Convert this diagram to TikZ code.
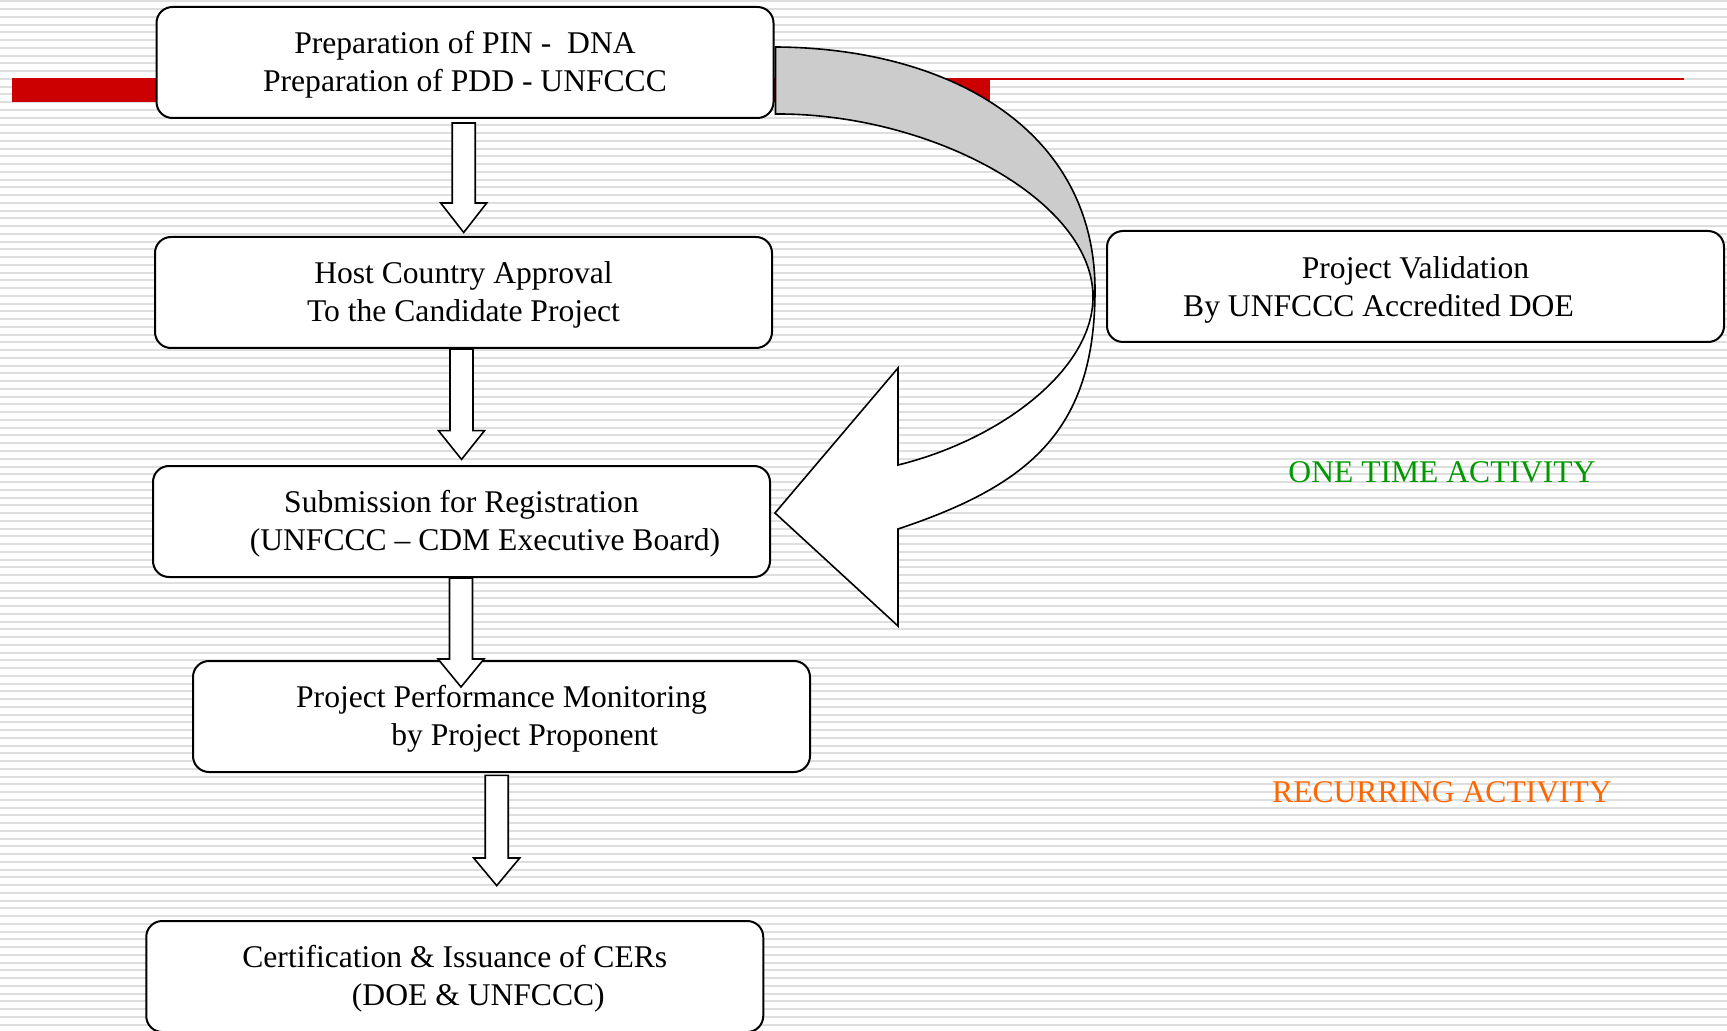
\documentclass[tikz,border=0pt]{standalone}
\usepackage{fontspec}
\setmainfont{Liberation Serif}
\usetikzlibrary{calc}
\definecolor{stripegray}{RGB}{222,222,222}
\definecolor{barred}{RGB}{204,0,0}
\definecolor{bandgray}{RGB}{204,204,204}
\definecolor{onegreen}{RGB}{0,153,0}
\definecolor{recorange}{RGB}{255,102,0}
\newcommand\topstrut{\rule{0pt}{15.7pt}}
\newcommand\toptallstrut{\rule{0pt}{16.7pt}}
\newcommand\blockdown[6]{%
 \draw[barrow] let \p1=(#1), \p2=(#2) in
 ({\x1+#3-5.75pt},{\y1-#4}) -- ({\x1+#3-5.75pt},{\y2+#5+#6}) --
 ({\x1+#3-11.5pt},{\y2+#5+#6}) -- ({\x1+#3},{\y2+#5}) --
 ({\x1+#3+11.5pt},{\y2+#5+#6}) -- ({\x1+#3+5.75pt},{\y2+#5+#6}) --
 ({\x1+#3+5.75pt},{\y1-#4}) -- cycle;}
\begin{document}
\begin{tikzpicture}[x=0.5pt,y=-0.5pt,
 stripe/.style={stripegray, line width=1pt},
 box/.style={draw, line width=1pt, fill=white, rounded corners=8pt,
   minimum width=308.5pt, minimum height=55.5pt, align=center,
   font=\fontsize{15.8pt}{19.25pt}\selectfont, inner sep=0pt},
 barrow/.style={draw, line width=0.8pt, fill=white, line join=miter},
 curved/.style={draw, line width=0.8pt, line join=miter},
 acttext/.style={font=\fontsize{15.8pt}{19pt}\selectfont, anchor=base}]
\useasboundingbox (0,0) rectangle (1727,1031);
\fill[white] (0,0) rectangle (1727,1031);
\foreach \k in {0,...,133} \draw[stripe] (0,{1.5+7.75*\k}) -- (1727,{1.5+7.75*\k});
% red title bar
\fill[barred] (12,78) rectangle (990,102);
\draw[barred, line width=0.85pt] (990,79) -- (1684,79);
% boxes
\node[box] (b1) at (465,62.5) {\topstrut Preparation of PIN -\ \ DNA\\\strut Preparation of PDD - UNFCCC};
\node[box] (b2) at (463.5,292.5) {\topstrut Host Country Approval\\\strut To the Candidate Project};
\node[box] (b3) at (461.5,521.5) {\topstrut Submission for Registration\\\hspace*{23.5pt}\strut(UNFCCC – CDM Executive Board)};
\node[box] (b4) at (501.5,716.5) {\topstrut Project Performance Monitoring\\\hspace*{23.3pt}\strut by Project Proponent};
\node[box] (b5) at (454.75,976.5) {\topstrut Certification \& Issuance of CERs\\\hspace*{23.6pt}\strut(DOE \& UNFCCC)};
\node[box] (b6) at (1415.5,286.5) {\toptallstrut Project Validation\\\strut By UNFCCC Accredited DOE\hspace*{37pt}};
% curved arrow
\coordinate (A) at ($(b1.north east)+(1,41)$);
\coordinate (B) at ($(b1.south east)+(1,-5)$);
\coordinate (T) at ($(b3.east)+(4,-8.5)$);
\coordinate (R) at (1095,290);
\coordinate (C) at (1093,297);
\coordinate (D) at (898,465);
\coordinate (E) at (898,529);
\coordinate (H1) at (898,368);
\coordinate (H2) at (898,626);
\filldraw[curved, fill=bandgray] (A) .. controls (950,48) and (1095,130) .. (R) -- (C)
  .. controls (1093,200) and (930,113) .. (B) -- cycle;
\filldraw[curved, fill=white] (R) .. controls (1095,430) and (1030,485) .. (E) -- (H2) -- (T)
  -- (H1) -- (D) .. controls (1000,440) and (1093,370) .. (C) -- cycle;
% block arrows
\blockdown{b1.south}{b2.north}{-0.65pt}{2pt}{1.75pt}{14.75pt}
\blockdown{b2.south}{b3.north}{-1pt}{0pt}{2.8pt}{14.35pt}
\blockdown{b3.south}{b4.north}{-0.25pt}{0pt}{-13.5pt}{14pt}
\blockdown{b4.south}{b5.north}{-2.4pt}{1.15pt}{17.2pt}{13.8pt}
% activity labels
\node[acttext, text=onegreen] (one) at (1442,482.7) {ONE TIME ACTIVITY};
\node[acttext, text=recorange] (rec) at (1442,802.7) {RECURRING ACTIVITY};
\end{tikzpicture}
\end{document}
